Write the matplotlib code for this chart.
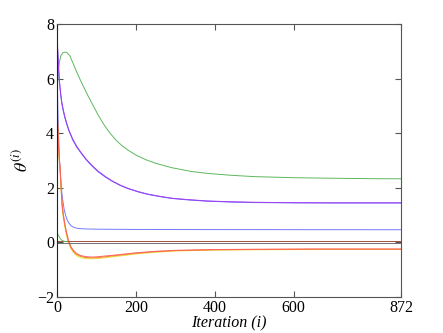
import matplotlib
matplotlib.use("Agg")
import matplotlib.pyplot as plt

plt.rcParams['font.family'] = ['Liberation Serif', 'DejaVu Serif']
plt.rcParams['mathtext.fontset'] = 'stix'

# Data
green_i = [0, 3, 6, 10, 15, 20, 25, 32, 40, 50, 60, 70, 80, 92, 105, 120, 135, 150, 165, 180, 200, 225, 250, 290, 340, 380, 440, 500, 600, 700, 800, 872]
green_v = [5.5, 6.2, 6.6, 6.85, 6.95, 6.97, 6.95, 6.85, 6.58, 6.24, 5.92, 5.62, 5.33, 5.0, 4.65, 4.29, 3.99, 3.74, 3.54, 3.38, 3.2, 3.03, 2.9, 2.74, 2.6, 2.53, 2.46, 2.41, 2.37, 2.35, 2.335, 2.33]

purple_i = [0, 2, 4, 6, 9, 12, 16, 20, 25, 30, 40, 50, 62, 75, 90, 105, 122, 140, 160, 180, 206, 230, 260, 291, 330, 380, 438, 500, 600, 700, 872]
purple_v = [7.6, 7.0, 6.4, 5.95, 5.5, 5.15, 4.85, 4.6, 4.35, 4.12, 3.78, 3.52, 3.27, 3.03, 2.8, 2.6, 2.42, 2.25, 2.1, 1.98, 1.86, 1.77, 1.69, 1.62, 1.57, 1.52, 1.49, 1.47, 1.455, 1.45, 1.45]
purple2_v = [7.5, 6.9, 6.3, 5.88, 5.44, 5.1, 4.8, 4.56, 4.31, 4.09, 3.75, 3.49, 3.25, 3.01, 2.78, 2.58, 2.4, 2.24, 2.09, 1.97, 1.85, 1.76, 1.68, 1.61, 1.56, 1.51, 1.48, 1.46, 1.45, 1.445, 1.445]

blue_i = [0, 1, 2, 3, 4, 6, 8, 10, 12, 15, 18, 22, 26, 30, 35, 40, 47, 55, 70, 100, 200, 400, 872]
blue_v = [6.5, 5.7, 5.0, 4.4, 3.9, 3.1, 2.6, 2.2, 1.85, 1.5, 1.22, 0.98, 0.82, 0.71, 0.62, 0.57, 0.53, 0.51, 0.495, 0.485, 0.475, 0.47, 0.465]

orange_i = [0, 1, 2, 4, 6, 8, 10, 13, 16, 20, 24, 29, 35, 42, 50, 60, 72, 85, 100, 120, 150, 175, 200, 250, 300, 350, 400, 500, 650, 872]
orange_v = [5.0, 4.6, 4.2, 3.5, 3.0, 2.65, 2.1, 1.35, 0.98, 0.62, 0.33, 0.04, -0.18, -0.33, -0.44, -0.51, -0.55, -0.565, -0.56, -0.53, -0.48, -0.44, -0.4, -0.34, -0.3, -0.285, -0.27, -0.26, -0.25, -0.25]
yellow_v = [4.9, 4.5, 4.1, 3.4, 2.9, 2.55, 2.0, 1.27, 0.9, 0.55, 0.26, -0.02, -0.23, -0.38, -0.49, -0.56, -0.59, -0.6, -0.595, -0.565, -0.51, -0.47, -0.42, -0.36, -0.315, -0.295, -0.28, -0.27, -0.26, -0.26]
red_v = [5.05, 4.65, 4.25, 3.55, 3.05, 2.7, 2.15, 1.4, 1.03, 0.67, 0.38, 0.08, -0.15, -0.3, -0.41, -0.48, -0.52, -0.535, -0.53, -0.5, -0.46, -0.42, -0.38, -0.325, -0.29, -0.275, -0.26, -0.25, -0.24, -0.24]

flat_i = [0, 872]
brown_v = [0.04, 0.04]
gray_v = [-0.03, -0.03]

smallgreen_i = [0, 4, 8, 12, 18, 25]
smallgreen_v = [0.35, 0.25, 0.15, 0.08, 0.04, 0.03]

xticks = [0, 200, 400, 600, 872]
yticks = [-2, 0, 2, 4, 6, 8]

fig = plt.figure(figsize=(4.43, 3.33), dpi=100)
ax = fig.add_axes([0.1287, 0.108, 0.7763, 0.82])

lw = 0.7
ax.plot(green_i, green_v, color='#5cb85c', lw=lw)
ax.plot(purple_i, purple2_v, color='#6a5cff', lw=lw)
ax.plot(purple_i, purple_v, color='#a040f0', lw=lw)
ax.plot(blue_i, blue_v, color='#7777ff', lw=lw)
ax.plot(orange_i, yellow_v, color='#e8e040', lw=lw)
ax.plot(orange_i, orange_v, color='#f08a20', lw=lw)
ax.plot(orange_i, red_v, color='#ff6060', lw=lw)
ax.plot(flat_i, gray_v, color='#707070', lw=lw)
ax.plot(flat_i, brown_v, color='#a0503a', lw=lw)
ax.plot(smallgreen_i, smallgreen_v, color='#5cb85c', lw=lw)

ax.set_xlim(0, 872)
ax.set_ylim(-2, 8)
ax.set_xticks(xticks)
ax.set_yticks(yticks)
ax.tick_params(direction='in', top=True, right=True, labelsize=11.5, color='#555555', length=4, pad=2)
for s in ax.spines.values():
    s.set_color('#555555')
ax.spines['left'].set_color('#222222')
ax.set_xlabel('Iteration (i)', fontsize=11.5, style='italic', labelpad=0)
ax.set_ylabel(r'$\theta^{(i)}$', fontsize=13, labelpad=4)

fig.savefig('out.png', dpi=100)
